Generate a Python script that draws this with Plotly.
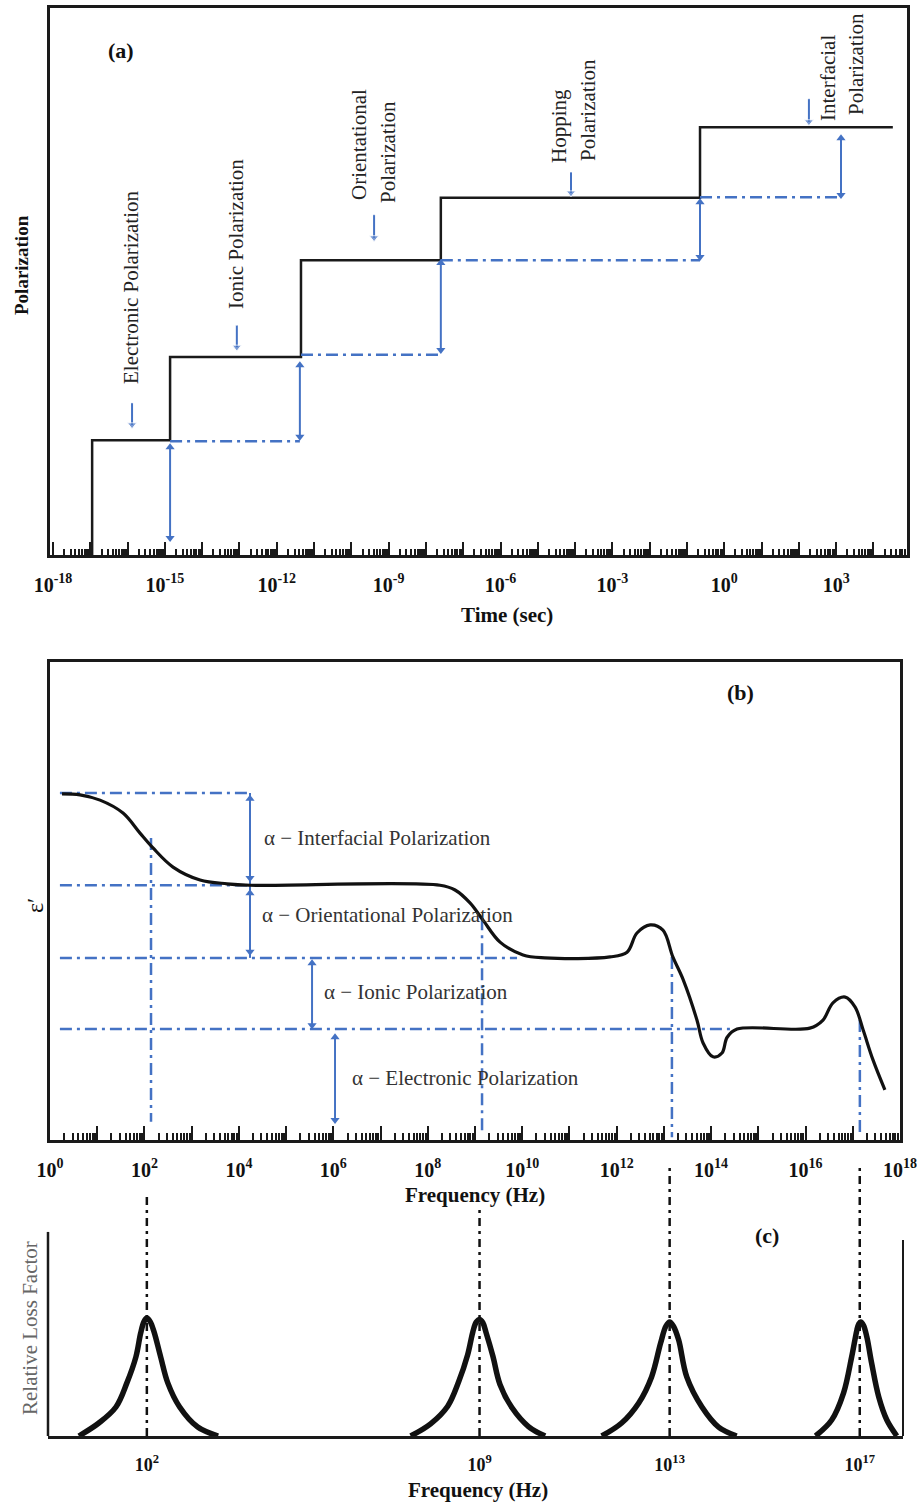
import numpy as np
import plotly.graph_objects as go

W, H = 917, 1505
BLUE = "#4472C4"
INK = "#1a1a1a"
SERIF = "Liberation Serif"

# ---------------- Panel (a): polarization vs time ----------------
step_exp = [-16.95, -14.86, -11.35, -7.60, -0.65]      # log10(time) of each rise
step_level = [21.0, 36.2, 53.9, 65.3, 78.2]
step_end_exp = 4.52

dash_a_start = [-14.86, -11.35, -7.60, -0.65]
dash_a_end = [-11.38, -7.60, -0.65, 3.13]
dash_a_level = [20.8, 36.6, 53.9, 65.4]

arrow_a_x = [-14.86, -11.38, -7.60, -0.65, 3.13]
arrow_a_hi = [19.7, 34.7, 53.4, 64.5, 76.2]
arrow_a_lo = [3.1, 21.6, 37.5, 54.5, 65.8]

ptr_a_x = [-15.88, -13.07, -9.39, -4.11, 2.27]
ptr_a_top = [27.8, 42.0, 62.2, 70.0, 83.4]
ptr_a_bot = [23.8, 38.0, 58.0, 66.2, 79.2]

a_tick_exp = list(range(-18, 5))
a_label_exp = [-18, -15, -12, -9, -6, -3, 0, 3]

# ---------------- Panel (b): epsilon' vs frequency ----------------
eps_exp = [0.254, 0.635, 1.059, 1.546, 1.906, 2.181, 2.605, 3.177, 3.748, 4.235,
           8.259, 8.577, 8.894, 9.170, 9.530, 10.017, 10.48, 11.86, 12.22, 12.43,
           12.71, 12.98, 13.19, 13.41, 13.70, 13.83, 14.04, 14.23, 14.34, 14.55,
           16.09, 16.37, 16.58, 16.84, 17.05, 17.22, 17.43, 17.68]
eps_val = [72.4, 72.2, 71.1, 68.4, 64.2, 61.1, 57.1, 54.4, 53.6, 53.3,
           53.3, 52.3, 49.6, 46.0, 41.4, 38.7, 38.1, 38.3, 39.3, 43.3,
           45.0, 43.9, 38.3, 33.5, 25.1, 20.3, 17.4, 18.2, 21.5, 23.2,
           23.4, 25.1, 28.7, 29.9, 27.8, 23.0, 16.7, 10.5]

lvl_b = [72.6, 53.3, 38.1, 23.2]
lvl_b_start = 0.21
lvl_b_end = [4.235, 4.235, 9.89, 14.5]

vline_b_x = [2.139, 9.149, 13.17, 17.15]
vline_b_top = [63.2, 46.4, 38.3, 25.1]
vline_b_bot = [3.8, 1.5, 0.6, 1.5]

arrow_b_x = [4.235, 4.235, 5.549, 6.036]
arrow_b_hi = [71.4, 51.6, 37.0, 21.5]
arrow_b_lo = [54.8, 39.4, 24.0, 4.2]

b_tick_exp = list(range(0, 19))
b_label_exp = [0, 2, 4, 6, 8, 10, 12, 14, 16, 18]

b_labels = ["α − Interfacial Polarization", "α − Orientational Polarization",
            "α − Ionic Polarization", "α − Electronic Polarization"]

# ---------------- Panel (c): relative loss factor ----------------
p1_exp = [0.57, 0.99, 1.35, 1.58, 1.77, 1.87, 1.94, 2.0, 2.07, 2.15, 2.29, 2.44, 2.69, 3.07, 3.5]
p1_val = [0, 4.8, 10.7, 19.6, 29.2, 38.0, 42.2, 43.5, 42.2, 38.5, 29.2, 19.6, 10.7, 3.3, 0]
p2_exp = [7.55, 7.97, 8.33, 8.56, 8.75, 8.86, 8.93, 9.0, 9.07, 9.14, 9.28, 9.43, 9.68, 10.03, 10.38]
p2_val = [0, 4.5, 11.0, 20.0, 30.0, 38.5, 42.0, 43.0, 41.8, 38.0, 29.5, 19.0, 10.5, 3.5, 0]
p3_exp = [11.57, 11.99, 12.35, 12.62, 12.81, 12.92, 13.0, 13.08, 13.19, 13.36, 13.68, 14.03, 14.41]
p3_val = [0, 4.8, 12.2, 21.8, 34.3, 40.5, 42.1, 40.5, 35.4, 21.8, 10.7, 3.3, 0]
p4_exp = [16.07, 16.41, 16.66, 16.83, 16.94, 16.98, 17.02, 17.08, 17.15, 17.25, 17.40, 17.57, 17.78]
p4_val = [0, 5.9, 15.9, 29.2, 39.1, 41.4, 42.1, 40.8, 36.5, 26.9, 14.4, 5.9, 0]

peak_line_exp = [2.0, 9.0, 13.0, 17.0]
peak_line_top = [89.7, 84.1, 99.3, 99.3]
c_label_exp = [2, 9, 13, 17]


def e10(v):
    return [10.0 ** x for x in v]


def sup(e):
    return "10<sup>%d</sup>" % e


fig = go.Figure()


def line(xs, ys, ax, color, width, dash=None, shape="linear"):
    fig.add_trace(go.Scatter(
        x=xs, y=ys, mode="lines", xaxis=ax[0], yaxis=ax[1],
        line=dict(color=color, width=width, dash=dash, shape=shape),
        showlegend=False, hoverinfo="skip"))


def arrow(x, hi, lo, ax, both=True, size=8):
    if both:
        fig.add_trace(go.Scatter(
            x=[x, x], y=[hi, lo], mode="lines+markers", xaxis=ax[0], yaxis=ax[1],
            line=dict(color=BLUE, width=2),
            marker=dict(symbol=["triangle-up", "triangle-down"], size=size, color=BLUE),
            showlegend=False, hoverinfo="skip"))
    else:
        fig.add_trace(go.Scatter(
            x=[x, x], y=[hi, lo], mode="lines+markers", xaxis=ax[0], yaxis=ax[1],
            line=dict(color=BLUE, width=2),
            marker=dict(symbol=["line-ew", "triangle-down"], size=[1, size], color=BLUE),
            showlegend=False, hoverinfo="skip"))


BDASH = "12px,5px,3px,5px"
KDASH = "8px,5px,3px,5px"

# ---- panel a traces ----
A = ("x", "y")
sx, sy = [10 ** step_exp[0]], [0]
for i, (e, lv) in enumerate(zip(step_exp, step_level)):
    sx += [10 ** e]
    sy += [lv]
    nxt = step_exp[i + 1] if i + 1 < len(step_exp) else step_end_exp
    sx += [10 ** nxt]
    sy += [lv]
line(sx, sy, A, INK, 2.5)

for s, e, lv in zip(dash_a_start, dash_a_end, dash_a_level):
    line([10 ** s, 10 ** e], [lv, lv], A, BLUE, 2.5, BDASH)
for x, hi, lo in zip(arrow_a_x, arrow_a_hi, arrow_a_lo):
    arrow(10 ** x, hi, lo, A)
for x, t, b in zip(ptr_a_x, ptr_a_top, ptr_a_bot):
    arrow(10 ** x, t, b, A, both=False, size=8)

# ---- panel b traces ----
B = ("x2", "y2")
for lv, en in zip(lvl_b, lvl_b_end):
    line([10 ** lvl_b_start, 10 ** en], [lv, lv], B, BLUE, 2.5, BDASH)
for x, t, b in zip(vline_b_x, vline_b_top, vline_b_bot):
    line([10 ** x, 10 ** x], [t, b], B, BLUE, 2.5, BDASH)
line([10 ** arrow_b_x[0]] * 2, [lvl_b[0], lvl_b[2]], B, BLUE, 2)
for x, hi, lo in zip(arrow_b_x, arrow_b_hi, arrow_b_lo):
    arrow(10 ** x, hi, lo, B)
line(e10(eps_exp), eps_val, B, "#111111", 3.2, shape="spline")

# ---- panel c traces ----
C = ("x3", "y3")
for x, t in zip(peak_line_exp, peak_line_top):
    line([10 ** x, 10 ** x], [0, t], C, "#111111", 2.5, KDASH)
for pe, pv in [(p1_exp, p1_val), (p2_exp, p2_val), (p3_exp, p3_val), (p4_exp, p4_val)]:
    line(e10(pe), pv, C, "#111111", 5.5, shape="spline")

# empty traces that attach the overlay tick axes (tall decade ticks)
fig.add_trace(go.Scatter(x=[], y=[], xaxis="x4", yaxis="y", showlegend=False, hoverinfo="skip"))
fig.add_trace(go.Scatter(x=[], y=[], xaxis="x5", yaxis="y2", showlegend=False, hoverinfo="skip"))


def pxd(a, b):
    return [a / W, b / W]


def pyd(top, bot):
    return [1 - bot / H, 1 - top / H]


tickfont = dict(family=SERIF, size=20, color="#111111", weight="bold")
A_RANGE = [-18.08, 4.9]
B_RANGE = [0, 18]

fig.update_layout(
    template="none",
    width=W, height=H, margin=dict(l=0, r=0, t=0, b=0, autoexpand=False),
    paper_bgcolor="white", plot_bgcolor="white",
    font=dict(family=SERIF, color="#111111"),
    xaxis=dict(
        domain=pxd(50, 907), anchor="y", type="log", range=A_RANGE,
        automargin=False,
        showline=True, linecolor=INK, linewidth=2.5, mirror=True,
        ticks="inside", ticklen=13, tickwidth=2, tickcolor=INK,
        tickmode="array", tickvals=e10(a_label_exp),
        ticktext=[sup(e) for e in a_label_exp],
        tickfont=tickfont, ticklabelstandoff=10,
        minor=dict(ticks="inside", ticklen=6, tickwidth=2, tickcolor=INK,
                   tickmode="array", showgrid=False,
                   tickvals=[m * 10.0 ** e for e in a_tick_exp for m in range(2, 10)]),
        showgrid=False, zeroline=False),
    xaxis4=dict(
        domain=pxd(50, 907), anchor="y", overlaying="x", side="bottom", type="log",
        range=A_RANGE, automargin=False, showline=False,
        ticks="inside", ticklen=13, tickwidth=2, tickcolor=INK,
        tickmode="array", tickvals=e10(a_tick_exp), showticklabels=False,
        showgrid=False, zeroline=False),
    yaxis=dict(
        domain=pyd(8, 555), anchor="x", range=[0, 100], automargin=False,
        showline=True, linecolor=INK, linewidth=2.5, mirror=True,
        ticks="", showticklabels=False, showgrid=False, zeroline=False),
    xaxis2=dict(
        domain=pxd(50, 900), anchor="y2", type="log", range=B_RANGE,
        automargin=False,
        showline=True, linecolor=INK, linewidth=2.5, mirror=True,
        ticks="inside", ticklen=14, tickwidth=2, tickcolor=INK,
        tickmode="array", tickvals=e10(b_label_exp),
        ticktext=[sup(e) for e in b_label_exp],
        tickfont=tickfont, ticklabelstandoff=10,
        minor=dict(ticks="inside", ticklen=7, tickwidth=2, tickcolor=INK,
                   tickmode="array", showgrid=False,
                   tickvals=[m * 10.0 ** e for e in b_tick_exp[:-1] for m in range(2, 10)]),
        showgrid=False, zeroline=False),
    xaxis5=dict(
        domain=pxd(50, 900), anchor="y2", overlaying="x2", side="bottom", type="log",
        range=B_RANGE, automargin=False, showline=False,
        ticks="inside", ticklen=14, tickwidth=2, tickcolor=INK,
        tickmode="array", tickvals=e10(b_tick_exp), showticklabels=False,
        showgrid=False, zeroline=False),
    yaxis2=dict(
        domain=pyd(662, 1140), anchor="x2", range=[0, 100], automargin=False,
        showline=True, linecolor=INK, linewidth=2.5, mirror=True,
        ticks="", showticklabels=False, showgrid=False, zeroline=False),
    xaxis3=dict(
        domain=pxd(48, 903), anchor="y3", type="log", range=[-0.08, 17.91],
        automargin=False,
        showline=True, linecolor=INK, linewidth=3, mirror=False,
        ticks="", tickmode="array", tickvals=e10(c_label_exp),
        ticktext=[sup(e) for e in c_label_exp],
        tickfont=dict(family=SERIF, size=18, color="#111111", weight="bold"),
        ticklabelstandoff=10, showgrid=False, zeroline=False),
    yaxis3=dict(
        domain=pyd(1165, 1436), anchor="x3", range=[0, 100], automargin=False,
        showline=False, ticks="", showticklabels=False, showgrid=False, zeroline=False),
)

fig.add_shape(type="line", xref="x3 domain", yref="y3 domain", x0=0, x1=0, y0=0, y1=0.753,
              line=dict(color=INK, width=2.5))
fig.add_shape(type="line", xref="x3 domain", yref="y3 domain", x0=1, x1=1, y0=0, y1=0.723,
              line=dict(color=INK, width=2))


def note(text, px, py, size=21, angle=0, color="#111111", xanchor="center"):
    fig.add_annotation(text=text, x=px / W, y=1 - py / H, xref="paper", yref="paper",
                       showarrow=False, textangle=angle, xanchor=xanchor, yanchor="middle",
                       font=dict(family=SERIF, size=size, color=color))


# panel a text
note("<b>(a)</b>", 121, 51, 22)
note("<b>Polarization</b>", 22, 265, 19, -90)
note("<b>Time (sec)</b>", 507, 615, 21)
for t, x, y in [("Electronic Polarization", 131, 287), ("Ionic Polarization", 236, 234),
                ("Orientational", 359, 145), ("Polarization", 388, 152),
                ("Hopping", 559, 126), ("Polarization", 588, 110),
                ("Interfacial", 828, 78), ("Polarization", 856, 64)]:
    note(t, x, y, 21, -90, "#222222")

# panel b text
note("<b>(b)</b>", 740, 692, 22)
note("ε′", 35, 906, 24, -90)
note("<b>Frequency (Hz)</b>", 475, 1195, 21)
for t, x, y in zip(b_labels, [262, 260, 322, 350], [838, 915, 992, 1078]):
    note(t, x, y, 21, 0, "#333333", xanchor="left")

# panel c text
note("<b>(c)</b>", 767, 1235, 22)
note("Relative Loss Factor", 30, 1328, 21, -90, "#666666")
note("<b>Frequency (Hz)</b>", 478, 1490, 21)

fig.write_html("out.html")
